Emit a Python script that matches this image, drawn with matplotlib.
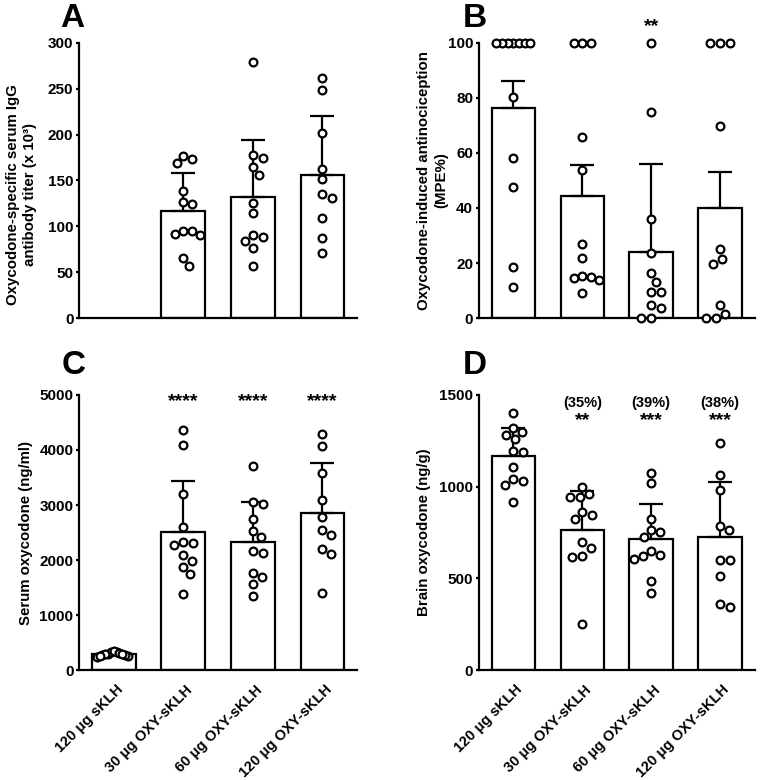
import matplotlib
matplotlib.use("Agg")
import matplotlib.pyplot as plt
import matplotlib.transforms as mtransforms
import numpy as np

plt.rcParams["font.family"] = ["Liberation Sans", "DejaVu Sans"]
plt.rcParams["font.weight"] = "bold"

groups = ["120 μg sKLH", "30 μg OXY-sKLH", "60 μg OXY-sKLH", "120 μg OXY-sKLH"]

# A: antibody titer (x 10^3), no sKLH group
titer_pts = [[],
             [177, 169, 173, 138, 124, 127, 95, 92, 91, 95, 65, 57],
             [279, 178, 165, 175, 156, 125, 114, 91, 88, 84, 76, 57],
             [262, 249, 202, 163, 152, 135, 131, 109, 87, 71]]
titer_mean = [np.nan, 116.5, 131.7, 155.6]
titer_err = [np.nan, 41.5, 62.4, 64.6]

# B: antinociception (MPE%)
mpe_pts = [[100, 100, 100, 100, 100, 100, 100, 80.5, 58.3, 47.8, 18.4, 11.1],
           [100, 100, 100, 65.8, 53.8, 26.8, 21.9, 15.2, 14.5, 13.8, 14.8, 9.1],
           [100, 75, 36, 23.6, 16.3, 13.2, 9.6, 9.6, 4.7, 3.6, 0, 0],
           [100, 100, 100, 69.8, 25, 21.4, 19.7, 4.7, 1.6, 0, 0]]
mpe_mean = [76.2, 44.4, 23.9, 39.9]
mpe_err = [9.9, 11.2, 32.1, 13.2]
mpe_stars = ["", "", "**", ""]

# C: serum oxycodone (ng/ml)
serum_pts = [[330, 300, 320, 250, 340, 280, 230, 310, 270, 300, 260, 290],
             [4364, 4097, 3200, 2606, 2315, 2273, 2327, 2091, 1988, 1867, 1739, 1388],
             [3703, 3061, 3024, 2745, 2521, 2412, 2158, 2133, 1758, 1691, 1564, 1352],
             [4297, 4073, 3576, 3085, 2776, 2552, 2455, 2206, 2115, 1394]]
serum_mean = [290, 2515, 2333, 2848]
serum_err = [35, 927, 728, 922]
serum_stars = ["", "****", "****", "****"]

# D: brain oxycodone (ng/g)
brain_pts = [[1402, 1319, 1297, 1284, 1261, 1194, 1188, 1105, 1040, 1031, 1009, 918],
             [998, 960, 944, 944, 860, 844, 824, 696, 668, 623, 618, 250],
             [1074, 1018, 824, 754, 762, 726, 648, 625, 607, 623, 487, 422],
             [1237, 1063, 982, 786, 766, 600, 600, 515, 346, 360]]
brain_mean = [1168, 763, 712, 723]
brain_err = [154, 213, 196, 300]
brain_stars = ["", "**", "***", "***"]
brain_pct = ["", "(35%)", "(39%)", "(38%)"]

W, H = 760, 780
fig = plt.figure(figsize=(W / 100, H / 100), dpi=100)


def swarm(vals, px_y, px_x, diam=10.0, limit=17.0):
    vals = np.asarray(vals, float)
    offs = np.zeros(len(vals))
    placed = []
    for i in np.argsort(-vals, kind="stable"):
        y = vals[i] * px_y
        cands = [0.0]
        for yy, xx in placed:
            dy = abs(y - yy)
            if dy < diam:
                dx = np.sqrt(diam ** 2 - dy ** 2)
                cands += [xx + dx, xx - dx]
        cands.sort(key=abs)
        for c in cands:
            if all((c - xx) ** 2 + (y - yy) ** 2 >= diam ** 2 - 1e-6 for yy, xx in placed):
                break
        placed.append((y, c))
        offs[i] = c
    m = np.max(np.abs(offs)) if len(offs) else 0
    if m > limit:
        offs *= limit / m
    return offs / px_x


def panel(rect, pts, mean, err, ymax, ystep, ylabel, label_xy, letter, letter_xy, xlabels):
    ax = fig.add_axes(rect)
    x = np.arange(4)
    mean = np.asarray(mean, float)
    err = np.asarray(err, float)
    ok = ~np.isnan(mean)
    ax.bar(x[ok], mean[ok], width=0.63, color="white", edgecolor="black",
           linewidth=1.6, zorder=1)
    ax.errorbar(x[ok], mean[ok], yerr=[np.zeros(ok.sum()), err[ok]], fmt="none",
                ecolor="black", elinewidth=1.6, capsize=8.3, capthick=1.6, zorder=2)
    px_y = rect[3] * H / ymax
    px_x = rect[2] * W / 4
    for i, vals in enumerate(pts):
        if not vals:
            continue
        offs = swarm(vals, px_y, px_x)
        ax.plot(i + offs, vals, "o", ms=5.6, mfc="white", mec="black", mew=1.6,
                clip_on=False, zorder=3)
    ax.set_xlim(-0.5, 3.5)
    ax.set_ylim(0, ymax)
    ax.set_yticks(np.arange(0, ymax + 1, ystep))
    for s in ["top", "right"]:
        ax.spines[s].set_visible(False)
    for s in ["left", "bottom"]:
        ax.spines[s].set_linewidth(1.6)
    ax.tick_params(axis="y", length=2.5, width=1.6, pad=1.5, labelsize=11)
    ax.tick_params(axis="x", length=0, pad=9, labelsize=10.5)
    ax.set_xticks(x)
    if xlabels:
        ax.set_xticklabels(groups, rotation=45, ha="right", va="top",
                           rotation_mode="anchor")
        off = mtransforms.ScaledTranslation(0.02, 0, fig.dpi_scale_trans)
        for t in ax.get_xticklabels():
            t.set_transform(t.get_transform() + off)
    else:
        ax.set_xticklabels([])
    ax.set_ylabel(ylabel, fontsize=10.8, fontweight="bold", linespacing=1.3)
    ax.yaxis.set_label_coords(*label_xy)
    fig.text(letter_xy[0], letter_xy[1], letter, fontsize=24, fontweight="bold",
             ha="left", va="baseline")
    return ax


axA = panel([0.104, 0.5923, 0.366, 0.3526], titer_pts, titer_mean, titer_err,
            300, 50, "Oxycodone-specific serum IgG\nantibody titer (x 10³)",
            (-0.150, 0.45), "A", (0.079, 0.965), False)
axB = panel([0.630, 0.5923, 0.363, 0.3526], mpe_pts, mpe_mean, mpe_err,
            100, 20, "Oxycodone-induced antinociception\n(MPE%)",
            (-0.112, 0.5), "B", (0.609, 0.965), False)
axC = panel([0.104, 0.141, 0.366, 0.3526], serum_pts, serum_mean, serum_err,
            5000, 1000, "Serum oxycodone (ng/ml)",
            (-0.165, 0.5), "C", (0.0816, 0.5205), True)
axD = panel([0.630, 0.141, 0.363, 0.3526], brain_pts, brain_mean, brain_err,
            1500, 500, "Brain oxycodone (ng/g)",
            (-0.174, 0.5), "D", (0.609, 0.5205), True)

for i, s in enumerate(mpe_stars):
    if s:
        axB.text(i, 104.5, s, ha="center", va="baseline", fontsize=14, clip_on=False)
for i, s in enumerate(serum_stars):
    if s:
        axC.text(i, 4800, s, ha="center", va="baseline", fontsize=14, clip_on=False)
for i, (s, p) in enumerate(zip(brain_stars, brain_pct)):
    if s:
        axD.text(i, 1335, s, ha="center", va="baseline", fontsize=14, clip_on=False)
        axD.text(i, 1435, p, ha="center", va="baseline", fontsize=10.5, clip_on=False)

fig.savefig("out.png", dpi=100)
